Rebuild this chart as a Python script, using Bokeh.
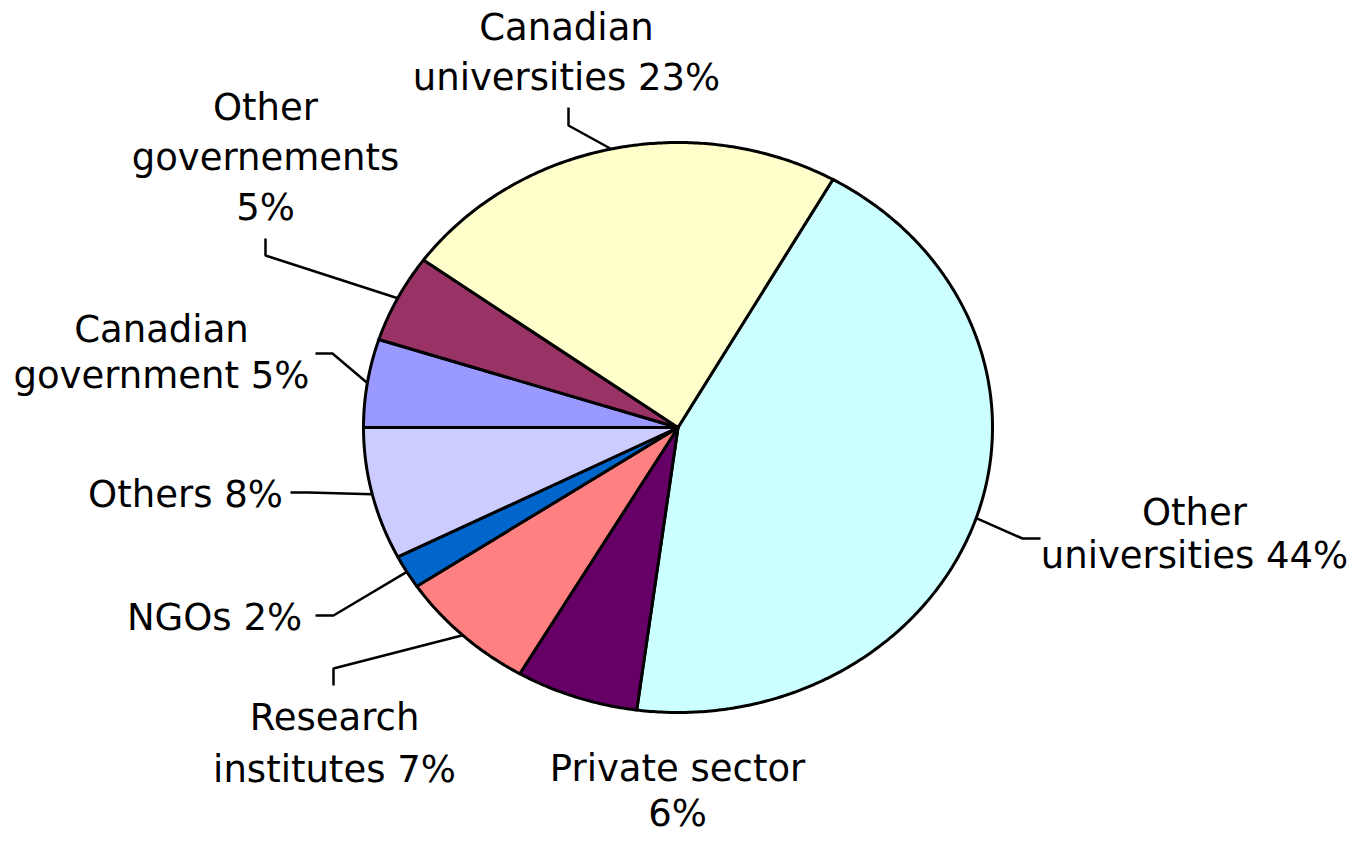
import math
from bokeh.plotting import figure
from bokeh.models import ColumnDataSource, Range1d
from bokeh.core.properties import value
from bokeh.embed import file_html
from bokeh.resources import INLINE

# ---- data (clockwise order, starting from the Canadian/Other universities boundary) ----
categories = ["Other universities", "Private sector", "Research institutes", "NGOs",
              "Others", "Canadian government", "Other governements", "Canadian universities"]
shares = [43.9, 6.3, 7.2, 1.9, 7.5, 5.0, 5.0, 23.2]
label_lines = [["Other", "universities 44%"],
               ["Private sector", "6%"],
               ["Research", "institutes 7%"],
               ["NGOs 2%"],
               ["Others 8%"],
               ["Canadian", "government 5%"],
               ["Other", "governements", "5%"],
               ["Canadian", "universities 23%"]]
colors = ["#CCFFFF", "#660066", "#FF8080", "#0066CC",
          "#CCCCFF", "#9999FF", "#993366", "#FFFFCC"]

# ---- layout (picture pixel space) ----
CX, CY, RX, RY = 677.5, 427.0, 314.5, 285.0
START_DEG = 29.5
TEXT_DY = -13  # compensation for the rendered baseline offset
# label text anchor: (x centre, first baseline, line step)
label_pos = [(1194, 525, 43), (677, 781, 45), (334, 730, 52), (214, 630, 0),
             (185, 507, 0), (161, 342, 46), (265, 120, 50), (566, 40, 50)]
# leader: label end point and elbow (None = no leader)
leader_pts = [[(1040, 538), (1022, 538)],
              None,
              [(333, 685), (333, 668)],
              [(315, 615), (333, 615)],
              [(290, 492), (308, 492)],
              [(315, 353), (332, 353)],
              [(265, 238), (265, 255)],
              [(568, 107), (568, 125)]]

W, H = 1348, 837
p = figure(width=W, height=H, x_range=Range1d(0, W), y_range=Range1d(H, 0),
           x_axis_type=None, y_axis_type=None, toolbar_location=None,
           output_backend="svg", min_border=0)
p.grid.visible = False
p.outline_line_color = None
p.background_fill_color = "white"
p.border_fill_color = "white"


def pt(theta_deg):
    t = math.radians(theta_deg)
    return CX + RX * math.sin(t), CY - RY * math.cos(t)


total = sum(shares)
xs, ys, mids = [], [], []
a = START_DEG
for s in shares:
    span = 360.0 * s / total
    n = max(4, int(span * 2))
    px, py = [CX], [CY]
    for i in range(n + 1):
        x, y = pt(a + span * i / n)
        px.append(x)
        py.append(y)
    xs.append(px)
    ys.append(py)
    mids.append(a + span / 2)
    a += span

p.patches(xs="xs", ys="ys", fill_color="color", line_color="black", line_width=3,
          line_join="round",
          source=ColumnDataSource(dict(xs=xs, ys=ys, color=colors)))

# leader lines
lx, ly = [], []
for lp, m in zip(leader_pts, mids):
    if lp is None:
        continue
    ex, ey = pt(m)
    lx.append([lp[0][0], lp[1][0], ex])
    ly.append([lp[0][1], lp[1][1], ey])
p.multi_line(xs=lx, ys=ly, line_color="black", line_width=2.5)

# labels
tx, ty, tt = [], [], []
for lines, (x0, y0, step) in zip(label_lines, label_pos):
    for i, line in enumerate(lines):
        tx.append(x0)
        ty.append(y0 + i * step + TEXT_DY)
        tt.append(line)
p.text(x=tx, y=ty, text=tt, text_font=value("DejaVu Sans"), text_font_size=value("37px"),
       text_align="center", text_baseline="alphabetic", text_color="black")

open("out.html", "w").write(file_html(p, INLINE))
